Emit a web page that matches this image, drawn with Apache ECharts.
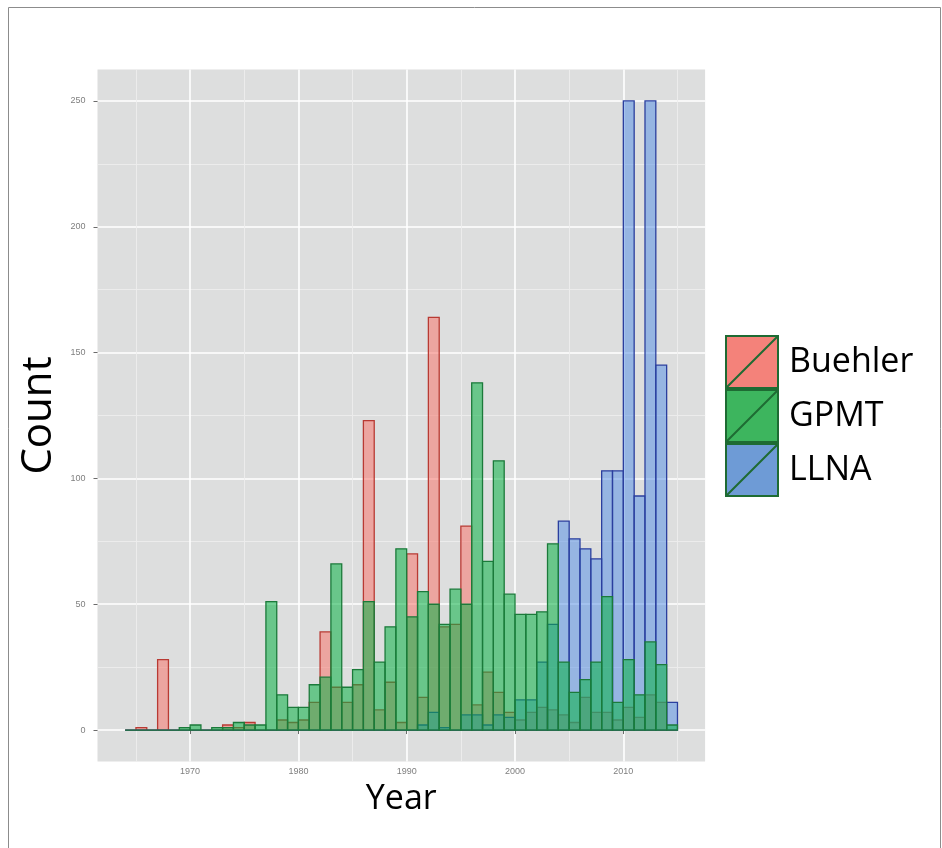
<!DOCTYPE html>
<html>
<head>
<meta charset="utf-8">
<script src="https://cdn.jsdelivr.net/npm/echarts@6/dist/echarts.min.js"></script>
<style>
html,body{margin:0;padding:0;background:#fff;}
#chart{width:942px;height:848px;}
</style>
</head>
<body>
<div id="chart"></div>
<script>
// Bin start years (bin width 1 year)
const years = [1964,1965,1966,1967,1968,1969,1970,1971,1972,1973,1974,1975,1976,1977,1978,1979,1980,1981,1982,1983,1984,1985,1986,1987,1988,1989,1990,1991,1992,1993,1994,1995,1996,1997,1998,1999,2000,2001,2002,2003,2004,2005,2006,2007,2008,2009,2010,2011,2012,2013,2014];
const binWidth = 1;
const buehler = [0,1,0,28,0,0,0,0,0,2,1,3,0,0,4,3,4,11,39,17,11,18,123,8,19,3,70,13,164,41,42,81,10,23,15,7,4,7,9,8,6,3,13,7,7,4,9,5,14,11,0];
const gpmt    = [0,0,0,0,0,1,2,0,1,1,3,2,2,51,14,9,9,18,21,66,17,24,51,27,41,72,45,55,50,42,56,50,138,67,107,54,46,46,47,74,27,15,20,27,53,11,28,14,35,26,2];
const llna    = [0,0,0,0,0,0,0,0,0,0,0,0,0,0,0,0,0,0,0,0,0,0,0,0,0,0,0,2,7,1,0,6,6,2,6,5,12,12,27,42,83,76,72,68,103,103,250,93,250,145,11];
const xMajor = [1970,1980,1990,2000,2010];
const xMinor = [1965,1975,1985,1995,2005,2015];
const yMajor = [0,50,100,150,200,250];
const yMinor = [25,75,125,175,225];
const seriesNames = ['Buehler','GPMT','LLNA'];

const xMin = 1961.45, xMax = 2017.55, yMin = -12.5, yMax = 262.5;

function binData(vals){ return years.map((y,i)=>[y, y+binWidth, vals[i]]); }

function makeSeries(name, vals, fill, stroke){
  return {
    type:'custom', name:name, xAxisIndex:0, yAxisIndex:0, clip:true,
    itemStyle:{color:fill},
    encode:{x:[0,1], y:2},
    data: binData(vals),
    renderItem: function(params, api){
      const p0 = api.coord([api.value(0), api.value(2)]);
      const p1 = api.coord([api.value(1), 0]);
      return {type:'rect', shape:{x:p0[0], y:p0[1], width:p1[0]-p0[0], height:p1[1]-p0[1]},
        style:{fill:fill, stroke:stroke, lineWidth:1.3}};
    }
  };
}

const chart = echarts.init(document.getElementById('chart'), null, {renderer:'canvas'});
const tickLabel = {color:'#7F7F7F', fontSize:9, fontFamily:'Liberation Sans'};
const option = {
  animation:false,
  backgroundColor:'#ffffff',
  grid:{left:97.5, top:69.5, width:607.6, height:692, show:true, backgroundColor:'#DDDEDE', borderWidth:0, containLabel:false, outerBoundsMode:'none'},
  xAxis:[
    {type:'value', min:xMin, max:xMax, position:'bottom',
     axisLine:{show:false},
     axisTick:{show:true, length:4, lineStyle:{color:'#6b6b6b'}, customValues:xMajor},
     axisLabel:Object.assign({customValues:xMajor, margin:6, formatter:function(v){return String(v);}}, tickLabel),
     splitLine:{show:true, lineStyle:{color:'#ffffff', width:1.6}},
     name:'Year', nameLocation:'middle', nameGap:17,
     nameTextStyle:{fontSize:34, lineHeight:36, color:'#000', fontFamily:'Open Sans'}},
    {type:'value', min:xMin, max:xMax, position:'bottom',
     axisLine:{show:false}, axisLabel:{show:false},
     axisTick:{show:false, customValues:xMinor},
     splitLine:{show:true, lineStyle:{color:'#EDEDED', width:0.9}}}
  ],
  yAxis:[
    {type:'value', min:yMin, max:yMax, position:'left',
     axisLine:{show:false},
     axisTick:{show:true, length:4, lineStyle:{color:'#6b6b6b'}, customValues:yMajor},
     axisLabel:Object.assign({customValues:yMajor, margin:12, formatter:function(v){return String(v);}}, tickLabel),
     splitLine:{show:true, lineStyle:{color:'#ffffff', width:1.6}},
     name:'Count', nameLocation:'middle', nameGap:34,
     nameTextStyle:{fontSize:42, lineHeight:40, color:'#000', fontFamily:'Open Sans'}},
    {type:'value', min:yMin, max:yMax, position:'left',
     axisLine:{show:false}, axisLabel:{show:false},
     axisTick:{show:false, customValues:yMinor},
     splitLine:{show:true, lineStyle:{color:'#EDEDED', width:0.9}}}
  ],
  legend:{
    orient:'vertical', left:720, top:330, itemWidth:52, itemHeight:52, itemGap:0,
    icon:'path://M0,0L10,0L10,10L0,10Z M0,10L10,0',
    itemStyle:{borderColor:'#1E6B33', borderWidth:2},
    textStyle:{fontSize:34, color:'#000', fontFamily:'Open Sans', padding:[4,0,0,6]},
    data:[
      {name:'Buehler', itemStyle:{color:'#F4827A'}},
      {name:'GPMT', itemStyle:{color:'#3DB55E'}},
      {name:'LLNA', itemStyle:{color:'#6E9BD6'}}
    ]
  },
  graphic:[
    {type:'rect', silent:true, z:-10, shape:{x:8.5, y:7.5, width:932, height:850}, style:{fill:'none', stroke:'#8c8c8c', lineWidth:1}}
  ],
  series:[
    makeSeries(seriesNames[0], buehler, 'rgba(248,118,109,0.55)', '#B83A33'),
    makeSeries(seriesNames[2], llna, 'rgba(80,140,230,0.5)', '#2B3F9E'),
    makeSeries(seriesNames[1], gpmt, 'rgba(10,178,70,0.55)', '#1B7A3A')
  ]
};
chart.setOption(option);
</script>
</body>
</html>
